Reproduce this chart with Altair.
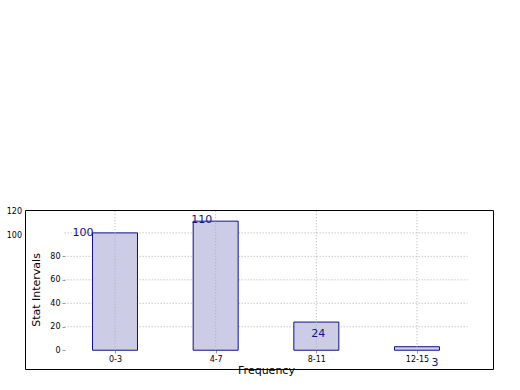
import altair as alt
import pandas as pd

categories = ["0-3", "4-7", "8-11", "12-15"]
values = [100, 110, 24, 3]
inner_ticks = [0, 20, 40, 60, 80]
outer_ticks = [100, 120]
grid_levels = [20, 40, 60, 80, 100]

x_domain = [-0.894, 3.755]
y_domain = [-16, 119.5]
inner_x = [-0.5, 3.5]

df = pd.DataFrame({"idx": list(range(len(categories))), "cat": categories, "val": values})
grid_df = pd.DataFrame({"lvl": grid_levels})
outer_df = pd.DataFrame({"lvl": outer_ticks})

navy = "#10108a"
font = "DejaVu Sans"
label_arr = "[" + ",".join("'%s'" % c for c in categories) + "]"

xscale = alt.Scale(domain=x_domain, nice=False, zero=False, padding=0)
yscale = alt.Scale(domain=y_domain, nice=False, zero=False, padding=0)

xaxis = alt.Axis(values=list(range(len(categories))), labelExpr=label_arr + "[datum.value]",
                 offset=-19, domain=False, grid=False, tickSize=3, tickColor="#999999",
                 labelPadding=2, labelFontSize=8, labelFont=font, labelColor="black",
                 labelOverlap=False,
                 title="Frequency", titleFont=font, titleFontSize=11, titleFontWeight="normal",
                 titlePadding=1, titleX=241, titleColor="black")
yaxis = alt.Axis(values=inner_ticks, offset=-40, domain=False, grid=False, tickSize=3,
                 tickColor="#999999", labelPadding=2, labelFontSize=8, labelFont=font,
                 labelColor="black", labelOverlap=False, labelBound=False, title="Stat Intervals",
                 titleFont=font, titleFontSize=11,
                 titleFontWeight="normal", titlePadding=8, titleColor="black")

hgrid = alt.Chart(grid_df).mark_rule(color="#b0b0b0", strokeDash=[1, 2], strokeWidth=1).encode(
    x=alt.datum(inner_x[0], scale=xscale, axis=xaxis), x2=alt.datum(inner_x[1]),
    y=alt.Y("lvl:Q", scale=yscale, axis=yaxis),
)

bars = alt.Chart(df).mark_bar(size=45, fill="#ccccE6", stroke=navy, strokeWidth=1).encode(
    x=alt.X("idx:Q", scale=xscale, axis=xaxis),
    y=alt.Y("val:Q", scale=yscale, axis=yaxis),
)

vgrid = alt.Chart(df).mark_rule(color="#b0b0b0", strokeDash=[1, 2], strokeWidth=1).encode(
    x=alt.X("idx:Q", scale=xscale, axis=xaxis),
    y=alt.datum(0, axis=yaxis), y2=alt.datum(y_domain[1]),
)

outer_labels = alt.Chart(outer_df).mark_text(align="right", baseline="middle", dx=-3, dy=3,
                                             fontSize=8, font=font, color="black").encode(
    x=alt.datum(x_domain[0], scale=xscale, axis=xaxis),
    y=alt.Y("lvl:Q", scale=yscale, axis=yaxis),
    text=alt.Text("lvl:Q"),
)

label_offsets = {"0-3": (-32, 0), "4-7": (-14, -1), "8-11": (2, 12), "12-15": (18, 16)}
label_layers = []
for c in categories:
    dx, dy = label_offsets[c]
    label_layers.append(
        alt.Chart(df).transform_filter(alt.datum.cat == c).mark_text(
            align="center", baseline="middle", dx=dx, dy=dy, fontSize=11, font=font, color=navy
        ).encode(x=alt.X("idx:Q", scale=xscale, axis=xaxis),
                 y=alt.Y("val:Q", scale=yscale, axis=yaxis), text="val:Q")
    )

chart = alt.layer(hgrid, bars, vgrid, outer_labels, *label_layers).properties(
    width=468, height=159,
    autosize=alt.AutoSizeParams(type="none"),
    padding={"left": 25, "top": 210, "right": 27, "bottom": 21},
    background="white",
).configure_view(stroke="black", strokeWidth=1)

chart.save("out.html", embed_options={"renderer": "svg", "actions": False})
